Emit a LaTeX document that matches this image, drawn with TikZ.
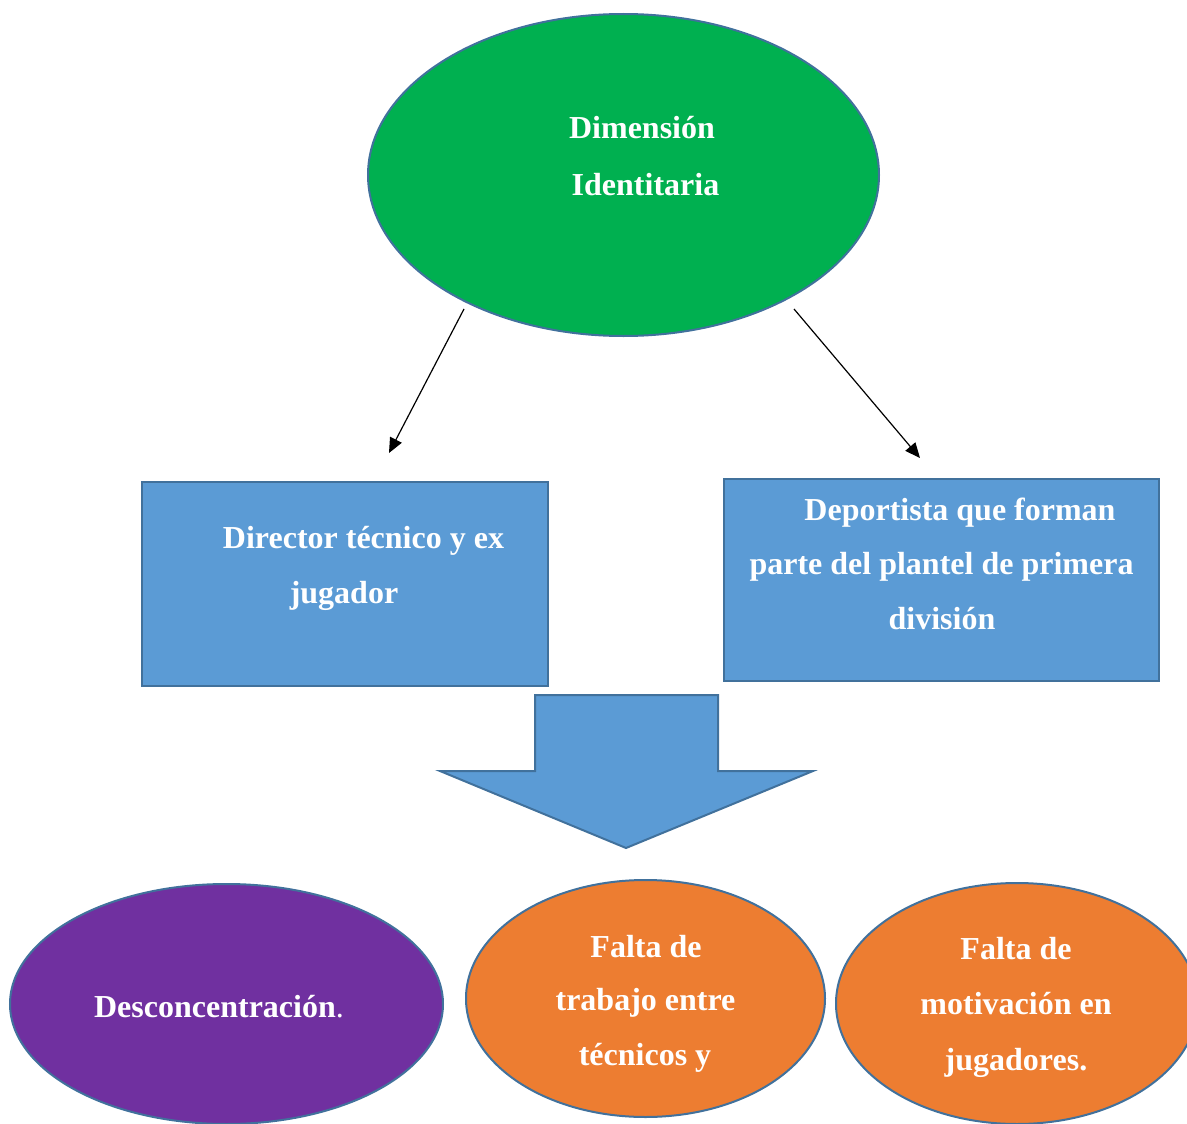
\documentclass[tikz,border=0pt]{standalone}
\usepackage{fontspec}
\setmainfont{Liberation Serif}
\usetikzlibrary{arrows.meta,shapes.geometric}
\definecolor{grn}{HTML}{00B050}
\definecolor{blu}{HTML}{5B9BD5}
\definecolor{bord}{HTML}{41719C}
\definecolor{purp}{HTML}{7030A0}
\definecolor{orng}{HTML}{ED7D31}
\begin{document}
\begin{tikzpicture}[x=1pt,y=-1pt,
 oval/.style={ellipse, draw=bord, line width=2pt, inner sep=0},
 boxs/.style={rectangle, draw=bord, line width=2.5pt, fill=blu, inner sep=0},
 txt/.style={text=white, font=\bfseries\fontsize{32}{38}\selectfont, inner sep=0, anchor=base},
 arr/.style={draw=black, line width=1.2pt, -{Triangle[length=15pt,width=13pt]}}]
\useasboundingbox (0,0) rectangle (1187,1124);
\clip (0,0) rectangle (1187,1124);
% shapes
\node[oval, fill=grn, minimum width=511pt, minimum height=322pt] (dim) at (623.5,175) {};
\node[boxs, minimum width=406pt, minimum height=204pt] (dir) at (345,584) {};
\node[boxs, minimum width=435pt, minimum height=202pt] (dep) at (941.5,580) {};
\node[oval, fill=purp, minimum width=433pt, minimum height=240pt] (des) at (226.5,1004) {};
\node[oval, fill=orng, minimum width=359pt, minimum height=237pt] (ftr) at (645.5,998.5) {};
\node[oval, fill=orng, minimum width=362pt, minimum height=241pt] (fmo) at (1017,1003.5) {};
% block arrow
\draw[fill=blu, draw=bord, line width=2pt, line join=miter]
  (535,695) -- (718,695) -- (718,771) -- (813,771) -- (626,848) -- (440,771) -- (535,771) -- cycle;
% connectors
\coordinate (a1s) at (464,309);
\coordinate (a1e) at (389,453);
\coordinate (a2s) at (794,309);
\coordinate (a2e) at (920,458);
\draw[arr] (a1s) -- (a1e);
\draw[arr] (a2s) -- (a2e);
% texts
\node[txt] (t1) at (642,139) {Dimensión};
\node[txt] (t2) at (645.5,195) {Identitaria};
\node[txt] (t3) at (363.5,548) {Director técnico y ex};
\node[txt] (t4) at (344,603) {jugador};
\node[txt] (t5) at (960,520) {Deportista que forman};
\node[txt] (t6) at (941.5,574) {parte del plantel de primera};
\node[txt] (t7) at (942,629) {división};
\node[txt] (t8) at (219,1017) {Desconcentración\mdseries.};
\node[txt] (t9) at (646,957) {Falta de};
\node[txt] (t10) at (645.5,1010) {trabajo entre};
\node[txt] (t11) at (645,1065) {técnicos y};
\node[txt] (t12) at (1016,959) {Falta de};
\node[txt] (t13) at (1016,1014) {motivación en};
\node[txt] (t14) at (1016,1070) {jugadores.};
\end{tikzpicture}
\end{document}
